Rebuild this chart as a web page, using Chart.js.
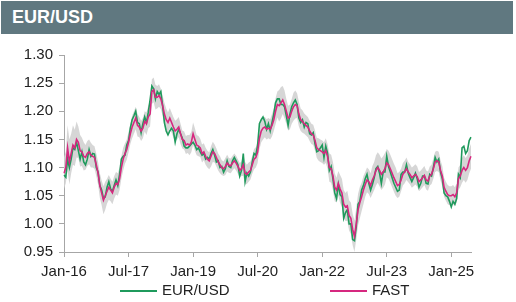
<!DOCTYPE html>
<html lang="en">
<head>
  <meta charset="UTF-8">
  <title>EUR/USD</title>
  <style>
    body { margin: 0; background: #fff; font-family: "Liberation Sans", Arial, sans-serif; }
    .wrap { position: relative; width: 516px; height: 302px; overflow: hidden; }
    .header {
      position: absolute; left: 1px; top: 1px; width: 512px; height: 33px;
      background: #607880; color: #fff; font-weight: bold; font-size: 18px;
      line-height: 33px; padding-left: 11px; box-sizing: border-box; z-index: 2;
    }
    .chart-box { position: absolute; left: 0; top: 0; width: 516px; height: 302px; }
    .legend { position: absolute; top: 281px; left: 0; width: 516px; height: 18px; font-size: 15px; color: #222; }
    .legend .item { position: absolute; top: 0; height: 18px; line-height: 18px; }
    .legend .swatch { display: inline-block; width: 37px; height: 2px; vertical-align: middle; margin-right: 5px; }
  </style>
</head>
<body>
  <div class="wrap">
    <div class="header">EUR/USD</div>
    <div class="chart-box">
      <canvas id="fxChart"></canvas>
    </div>
    <div class="legend">
      <span class="item" style="left:120px"><span class="swatch" style="background:#1f9a5c"></span>EUR/USD</span>
      <span class="item" style="left:330px"><span class="swatch" style="background:#d6287f"></span>FAST</span>
    </div>
  </div>

  <script src="https://cdn.jsdelivr.net/npm/chart.js"></script>
  <script>
    // Half-monthly readings, Jan-16 .. mid Jun-25
    const tickLabels = ['Jan-16', 'Jul-17', 'Jan-19', 'Jul-20', 'Jan-22', 'Jul-23', 'Jan-25'];

    const eurusd = [
      // 2016
      1.087, 1.083, 1.115, 1.100, 1.115, 1.135, 1.132, 1.145, 1.130, 1.115, 1.128, 1.110,
      1.105, 1.115, 1.132, 1.120, 1.125, 1.124, 1.100, 1.092, 1.068, 1.060, 1.045, 1.048,
      // 2017
      1.065, 1.075, 1.062, 1.058, 1.068, 1.078, 1.068, 1.088, 1.115, 1.120, 1.122, 1.140,
      1.148, 1.170, 1.185, 1.192, 1.200, 1.180, 1.178, 1.162, 1.178, 1.190, 1.180, 1.198,
      // 2018
      1.220, 1.245, 1.240, 1.222, 1.235, 1.230, 1.235, 1.210, 1.180, 1.165, 1.158, 1.165,
      1.170, 1.165, 1.145, 1.160, 1.168, 1.160, 1.152, 1.138, 1.135, 1.135, 1.138, 1.142,
      // 2019
      1.145, 1.140, 1.132, 1.135, 1.128, 1.122, 1.125, 1.115, 1.118, 1.115, 1.125, 1.132,
      1.122, 1.110, 1.112, 1.100, 1.102, 1.092, 1.098, 1.112, 1.102, 1.100, 1.112, 1.118,
      // 2020
      1.112, 1.105, 1.085, 1.095, 1.125, 1.075, 1.090, 1.085, 1.092, 1.110, 1.125, 1.122,
      1.140, 1.178, 1.185, 1.190, 1.182, 1.168, 1.178, 1.165, 1.180, 1.195, 1.215, 1.222,
      // 2021
      1.222, 1.212, 1.212, 1.208, 1.192, 1.175, 1.195, 1.208, 1.215, 1.220, 1.212, 1.188,
      1.180, 1.185, 1.172, 1.180, 1.178, 1.160, 1.158, 1.162, 1.142, 1.128, 1.130, 1.135,
      // 2022
      1.140, 1.118, 1.138, 1.125, 1.095, 1.102, 1.080, 1.055, 1.045, 1.070, 1.052, 1.048,
      1.010, 1.020, 1.025, 1.000, 1.000, 0.972, 0.970, 0.995, 1.035, 1.040, 1.060, 1.068,
      // 2023
      1.080, 1.088, 1.072, 1.060, 1.070, 1.082, 1.098, 1.102, 1.090, 1.072, 1.092, 1.092,
      1.120, 1.102, 1.092, 1.082, 1.072, 1.065, 1.058, 1.060, 1.088, 1.092, 1.092, 1.105,
      // 2024
      1.090, 1.082, 1.075, 1.082, 1.090, 1.080, 1.065, 1.072, 1.085, 1.085, 1.072, 1.071,
      1.088, 1.085, 1.100, 1.118, 1.110, 1.115, 1.092, 1.080, 1.055, 1.050, 1.048, 1.040,
      // 2025
      1.030, 1.040, 1.035, 1.045, 1.088, 1.082, 1.135, 1.138, 1.125, 1.130, 1.148, 1.154
    ];

    const fast = [
      // 2016
      1.090, 1.100, 1.135, 1.110, 1.125, 1.140, 1.135, 1.150, 1.145, 1.130, 1.128, 1.120,
      1.118, 1.125, 1.128, 1.122, 1.120, 1.118, 1.105, 1.090, 1.068, 1.055, 1.042, 1.050,
      // 2017
      1.058, 1.065, 1.060, 1.055, 1.065, 1.072, 1.070, 1.080, 1.100, 1.115, 1.125, 1.132,
      1.145, 1.160, 1.172, 1.180, 1.188, 1.175, 1.172, 1.165, 1.170, 1.182, 1.178, 1.190,
      // 2018
      1.195, 1.235, 1.238, 1.225, 1.225, 1.228, 1.222, 1.210, 1.195, 1.185, 1.180, 1.188,
      1.180, 1.172, 1.165, 1.168, 1.172, 1.160, 1.150, 1.148, 1.140, 1.142, 1.140, 1.145,
      // 2019
      1.160, 1.150, 1.140, 1.138, 1.135, 1.125, 1.128, 1.120, 1.115, 1.112, 1.120, 1.128,
      1.125, 1.118, 1.110, 1.105, 1.100, 1.098, 1.102, 1.108, 1.104, 1.103, 1.108, 1.112,
      // 2020
      1.108, 1.102, 1.095, 1.098, 1.105, 1.090, 1.088, 1.092, 1.095, 1.105, 1.115, 1.118,
      1.128, 1.152, 1.165, 1.170, 1.172, 1.168, 1.170, 1.168, 1.175, 1.185, 1.200, 1.212,
      // 2021
      1.210, 1.215, 1.220, 1.212, 1.200, 1.188, 1.190, 1.200, 1.208, 1.212, 1.210, 1.195,
      1.185, 1.182, 1.178, 1.175, 1.172, 1.165, 1.160, 1.158, 1.148, 1.135, 1.132, 1.130,
      // 2022
      1.128, 1.125, 1.130, 1.120, 1.100, 1.098, 1.085, 1.065, 1.060, 1.072, 1.062, 1.055,
      1.035, 1.030, 1.032, 1.015, 1.010, 0.990, 0.978, 1.000, 1.025, 1.038, 1.048, 1.060,
      // 2023
      1.070, 1.078, 1.075, 1.068, 1.078, 1.085, 1.095, 1.100, 1.095, 1.088, 1.092, 1.098,
      1.108, 1.105, 1.098, 1.090, 1.082, 1.075, 1.068, 1.070, 1.078, 1.088, 1.092, 1.098,
      // 2024
      1.092, 1.088, 1.082, 1.085, 1.088, 1.084, 1.075, 1.078, 1.082, 1.086, 1.078, 1.076,
      1.085, 1.088, 1.098, 1.110, 1.112, 1.110, 1.095, 1.085, 1.065, 1.058, 1.052, 1.050,
      // 2025
      1.050, 1.052, 1.048, 1.055, 1.080, 1.085, 1.095, 1.100, 1.095, 1.100, 1.112, 1.120
    ];

    // Half-width of the grey band around FAST, one value per month
    const bandHalf = [
      0.028, 0.040, 0.035, 0.032, 0.028, 0.025, 0.022, 0.022, 0.020, 0.020, 0.022, 0.025,
      0.022, 0.020, 0.020, 0.020, 0.020, 0.018, 0.018, 0.020, 0.020, 0.018, 0.018, 0.020,
      0.022, 0.022, 0.020, 0.018, 0.020, 0.018, 0.018, 0.018, 0.018, 0.016, 0.016, 0.018,
      0.020, 0.018, 0.016, 0.015, 0.015, 0.018, 0.016, 0.015, 0.013, 0.015, 0.013, 0.013,
      0.013, 0.013, 0.020, 0.017, 0.016, 0.018, 0.020, 0.020, 0.018, 0.018, 0.020, 0.023,
      0.028, 0.025, 0.022, 0.022, 0.025, 0.022, 0.020, 0.018, 0.018, 0.018, 0.018, 0.020,
      0.020, 0.022, 0.025, 0.025, 0.022, 0.025, 0.025, 0.027, 0.028, 0.028, 0.028, 0.025,
      0.022, 0.022, 0.025, 0.027, 0.028, 0.028, 0.025, 0.025, 0.025, 0.022, 0.020, 0.020,
      0.018, 0.018, 0.018, 0.017, 0.017, 0.017, 0.017, 0.018, 0.018, 0.018, 0.017, 0.017,
      0.017, 0.017, 0.020, 0.022, 0.022, 0.022
    ];

    const MONTHS = ['Jan', 'Feb', 'Mar', 'Apr', 'May', 'Jun', 'Jul', 'Aug', 'Sep', 'Oct', 'Nov', 'Dec'];
    const periods = eurusd.map((_, i) => {
      const m = Math.floor(i / 2);
      return `${MONTHS[m % 12]}-${16 + Math.floor(m / 12)} ${i % 2 ? 'b' : 'a'}`;
    });
    const bandUpper = fast.map((v, i) => v + bandHalf[Math.floor(i / 2)]);
    const bandLower = fast.map((v, i) => v - bandHalf[Math.floor(i / 2)]);

    const AXIS = '#a6a6a6';
    const TEXT = '#222';
    const FONT = { family: '"Liberation Sans", Arial, sans-serif', size: 15 };

    new Chart(document.getElementById('fxChart'), {
      type: 'line',
      data: {
        labels: periods,
        datasets: [
          { label: 'EUR/USD', data: eurusd, borderColor: '#1f9a5c', borderWidth: 1.6, order: 1 },
          { label: 'FAST', data: fast, borderColor: '#d6287f', borderWidth: 1.6, order: 0 },
          { label: 'upper', data: bandUpper, borderWidth: 0, borderColor: 'rgba(0,0,0,0)', order: 2 },
          { label: 'lower', data: bandLower, borderWidth: 0, borderColor: 'rgba(0,0,0,0)',
            fill: '-1', backgroundColor: 'rgba(210,210,210,0.9)', order: 3 }
        ]
      },
      options: {
        responsive: true,
        maintainAspectRatio: false,
        animation: false,
        layout: { padding: { top: 55, right: 45, bottom: 20, left: 0 } },
        elements: { point: { radius: 0 }, line: { tension: 0 } },
        plugins: { legend: { display: false }, tooltip: { enabled: false } },
        scales: {
          x: {
            type: 'category',
            offset: false,
            afterFit: scale => { scale.height = 30; },
            ticks: {
              autoSkip: false,
              maxRotation: 0,
              padding: 6,
              color: TEXT,
              font: FONT,
              callback: (v, i) => (i % 36 === 0 ? tickLabels[i / 36] : null)
            },
            grid: { drawOnChartArea: false, drawTicks: true, tickLength: 5, color: AXIS },
            border: { color: AXIS }
          },
          y: {
            min: 0.95,
            max: 1.30,
            afterFit: scale => { scale.width = 64; },
            ticks: {
              stepSize: 0.05,
              padding: 6,
              color: TEXT,
              font: FONT,
              callback: v => v.toFixed(2)
            },
            grid: { drawOnChartArea: false, drawTicks: true, tickLength: 5, color: AXIS },
            border: { color: AXIS }
          }
        }
      }
    });
  </script>
</body>
</html>
